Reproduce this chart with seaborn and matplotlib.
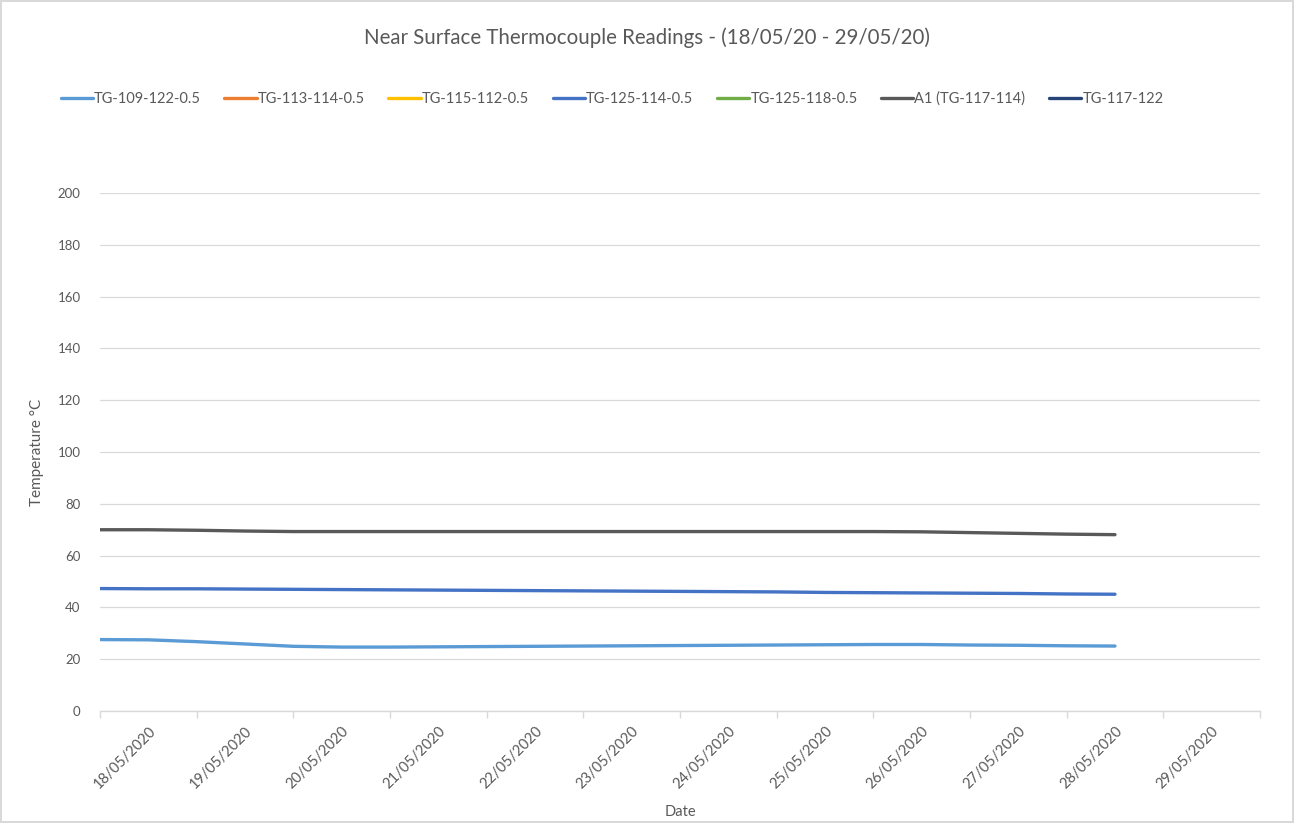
import numpy as np
import pandas as pd
import matplotlib
matplotlib.use("Agg")
import matplotlib.pyplot as plt
from matplotlib.lines import Line2D
import seaborn as sns

# ---------- data ----------
read_times = pd.date_range("2020-05-18 00:00", "2020-05-28 12:00", freq="12h")

tg_109_122 = [27.6, 27.5, 26.8, 25.9, 25.0, 24.7, 24.7, 24.8, 24.9, 25.0, 25.1,
              25.2, 25.3, 25.4, 25.5, 25.6, 25.7, 25.7, 25.5, 25.4, 25.2, 25.1]
tg_125_114 = [47.3, 47.2, 47.2, 47.1, 47.0, 46.9, 46.8, 46.7, 46.6, 46.5, 46.4,
              46.3, 46.2, 46.1, 46.0, 45.8, 45.7, 45.6, 45.5, 45.4, 45.2, 45.1]
a1_117_114 = [70.0, 70.0, 69.8, 69.5, 69.3, 69.3, 69.3, 69.3, 69.3, 69.3, 69.3,
              69.3, 69.3, 69.3, 69.3, 69.3, 69.3, 69.2, 68.9, 68.6, 68.3, 68.1]

series_names = ["TG-109-122-0.5", "TG-113-114-0.5", "TG-115-112-0.5", "TG-125-114-0.5",
                "TG-125-118-0.5", "A1 (TG-117-114)", "TG-117-122"]
series_colors = ["#5B9BD5", "#ED7D31", "#FFC000", "#4472C4", "#70AD47", "#595959", "#264478"]
# series with no readings in this period stay empty
series_values = {
    "TG-109-122-0.5": tg_109_122,
    "TG-125-114-0.5": tg_125_114,
    "A1 (TG-117-114)": a1_117_114,
}

day_labels = pd.date_range("2020-05-18", "2020-05-29", freq="D")
y_ticks = [0, 20, 40, 60, 80, 100, 120, 140, 160, 180, 200]

# ---------- plot ----------
sns.set_theme(style="white")
plt.rcParams["font.family"] = ["Lato", "DejaVu Sans"]
txt = "#595959"

fig = plt.figure(figsize=(12.94, 8.23), dpi=100, edgecolor="#d9d9d9", linewidth=1.5)
ax = fig.add_axes([0.0773, 0.136, 0.8964, 0.6295])

for name, color in zip(series_names, series_colors):
    if name in series_values:
        df = pd.DataFrame({"time": read_times, "value": series_values[name]})
        sns.lineplot(data=df, x="time", y="value", ax=ax, color=color,
                     linewidth=2.4, solid_capstyle="round", legend=False)

ax.set_ylim(0, 200)
ax.set_yticks(y_ticks)
ax.set_xlim(pd.Timestamp("2020-05-18"), pd.Timestamp("2020-05-30"))
ax.yaxis.grid(True, color="#d9d9d9", linewidth=0.9)
ax.set_axisbelow(True)

# day boundaries get tick marks, labels sit in the middle of each day
ax.set_xticks(list(day_labels) + [pd.Timestamp("2020-05-30")], minor=False)
ax.set_xticklabels([])
ax.set_xticks(day_labels + pd.Timedelta(hours=12), minor=True)
ax.set_xticklabels([d.strftime("%d/%m/%Y") for d in day_labels], minor=True,
                   rotation=45, ha="right", rotation_mode="anchor")
ax.tick_params(axis="x", which="major", length=5, color="#d9d9d9", width=1, direction="out")
ax.tick_params(axis="x", which="minor", length=0, pad=9, labelsize=10.5, labelcolor=txt)
ax.tick_params(axis="y", length=0, pad=14, labelsize=9.5, labelcolor=txt)
ax.xaxis.set_tick_params(which="both", bottom=True)

for s in ["top", "right", "left"]:
    ax.spines[s].set_visible(False)
ax.spines["bottom"].set_color("#d9d9d9")
ax.spines["bottom"].set_linewidth(1)

ax.set_xlabel("Date", fontsize=10.5, color=txt, labelpad=10)
ax.set_ylabel("Temperature °C", fontsize=11, color=txt, labelpad=10)

fig.text(0.5, 1 - 38 / 823, "Near Surface Thermocouple Readings - (18/05/20 - 29/05/20)",
         ha="center", va="center", fontsize=14.8, color=txt)

handles = [Line2D([0], [0], color=c, linewidth=2.4) for c in series_colors]
fig.legend(handles, series_names, loc="center", bbox_to_anchor=(612 / 1294, 1 - 99 / 823),
           ncol=7, frameon=False, fontsize=10.5, labelcolor=txt, handlelength=2.2,
           handletextpad=0.1, columnspacing=1.6)

fig.savefig("out.png", dpi=100, edgecolor=fig.get_edgecolor())
plt.close("all")
